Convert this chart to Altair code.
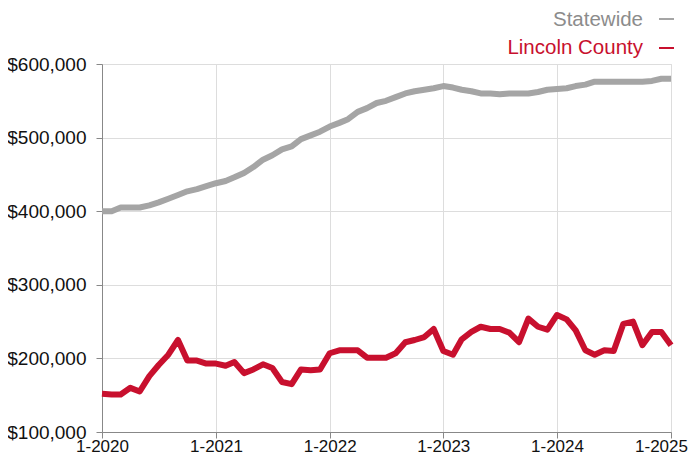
import altair as alt
import pandas as pd

months = pd.date_range("2020-01-01", "2025-01-01", freq="MS").strftime("%Y-%m-%d").tolist()

statewide = [400000, 400000, 405000, 405000, 405000, 408000, 412000, 417000, 422000, 427000,
             430000, 434000, 438000, 441000, 446000, 452000, 460000, 470000, 476000, 484000,
             488000, 498000, 503000, 508000, 515000, 520000, 525000, 535000, 540000, 547000,
             550000, 555000, 560000, 563000, 565000, 567000, 570000, 568000, 565000, 563000,
             560000, 560000, 559000, 560000, 560000, 560000, 562000, 565000, 566000, 567000,
             570000, 572000, 576000, 576000, 576000, 576000, 576000, 576000, 577000, 580000,
             580000]

lincoln = [152000, 151000, 151000, 160000, 155000, 176000, 191000, 205000, 225000, 197000,
           197000, 193000, 193000, 190000, 195000, 180000, 185000, 192000, 187000, 168000,
           165000, 185000, 184000, 185000, 207000, 211000, 211000, 211000, 201000, 201000,
           201000, 207000, 222000, 225000, 229000, 240000, 210000, 205000, 226000, 236000,
           243000, 240000, 240000, 235000, 222000, 254000, 243000, 239000, 259000, 253000,
           238000, 211000, 205000, 211000, 210000, 247000, 250000, 218000, 236000, 236000,
           218000]

series_names = ["Statewide", "Lincoln County"]
series_colors = ["#a5a5a5", "#c8102e"]
legend_text_colors = ["#8c8c8c", "#c8102e"]
year_ticks = ["2020-01-01", "2021-01-01", "2022-01-01", "2023-01-01", "2024-01-01", "2025-01-01"]
y_ticks = [100000, 200000, 300000, 400000, 500000, 600000]

rows = []
for name, vals in zip(series_names, [statewide, lincoln]):
    for m, v in zip(months, vals):
        rows.append({"month": m, "value": v, "series": name})
df = pd.DataFrame(rows)

FONT = "Liberation Sans"

x_enc = alt.X(
    "month:T",
    scale=alt.Scale(type="utc", domain=["2020-01-01", "2025-01-01"], nice=False),
    axis=alt.Axis(
        title=None, values=year_ticks, format="%-m-%Y",
        labelFontSize=17, labelColor="#111111", labelFont=FONT, labelPadding=0,
        labelOffset=alt.ExprRef("datum.value > utc(2024, 6, 1) ? -10 : 0"),
        tickSize=6, tickColor="#888888", domainColor="#888888",
        gridColor="#dddddd", labelFlush=False, labelOverlap=False,
    ),
)
y_enc = alt.Y(
    "value:Q",
    scale=alt.Scale(domain=[100000, 600000], nice=False),
    axis=alt.Axis(
        title=None, values=y_ticks, format="$,.0f",
        labelFontSize=19, labelColor="#111111", labelFont=FONT, labelPadding=10,
        tickSize=6, tickColor="#888888", domainColor="#888888",
        gridColor="#dddddd",
    ),
)

lines = alt.Chart(df).mark_line(strokeWidth=6, strokeJoin="round").encode(
    x=x_enc,
    y=y_enc,
    color=alt.Color("series:N", scale=alt.Scale(domain=series_names, range=series_colors), legend=None),
    detail="series:N",
)

leg_df = pd.DataFrame({"label": series_names, "col": legend_text_colors, "ty": [-38, -10]})
leg_text = alt.Chart(leg_df).mark_text(
    align="right", baseline="alphabetic", fontSize=20.5, font=FONT
).encode(
    x=alt.value(541),
    y=alt.Y("ty:Q", scale=None),
    text="label:N",
    color=alt.Color("col:N", scale=None),
)

dash_df = pd.DataFrame({"col": series_colors, "dy": [-45, -16], "name": series_names})
leg_dash = alt.Chart(dash_df).mark_rule(strokeWidth=2).encode(
    x=alt.value(557), x2=alt.value(572),
    y=alt.Y("dy:Q", scale=None),
    color=alt.Color("col:N", scale=None),
)

chart = alt.layer(lines, leg_text, leg_dash).properties(
    width=569, height=368,
    autosize=alt.AutoSizeParams(type="none"),
    padding={"left": 94, "top": 56, "right": 20, "bottom": 26},
).configure_view(stroke="#888888", strokeWidth=1).configure(background="white")

chart.save("out.html", embed_options={"renderer": "svg", "actions": False})
